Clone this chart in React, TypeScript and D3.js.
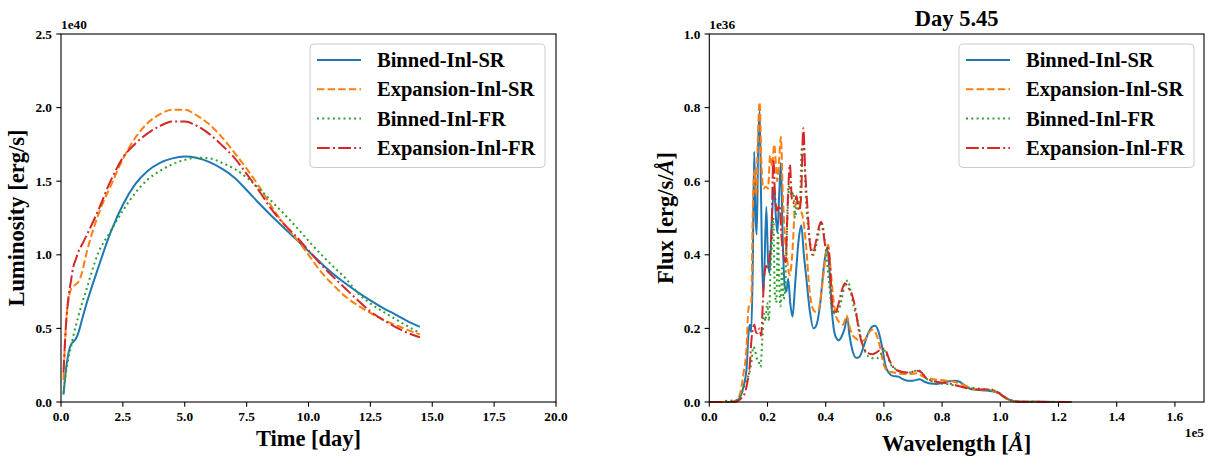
import React from "react";
import * as d3 from "d3";

const FONT = "'Liberation Serif', 'Times New Roman', Times, serif";

// ---------- shared series info ----------
const seriesNames = ["Binned-Inl-SR", "Expansion-Inl-SR", "Binned-Inl-FR", "Expansion-Inl-FR"];
const seriesColors = ["#1f77b4", "#ff7f0e", "#2ca02c", "#d62728"];
const seriesDashes = ["none", "7.4 3.2", "2 3.3", "12.8 3.2 2 3.2"];

// ---------- left panel: light curves (time in days, luminosity in 1e40 erg/s) ----------
const timeDays = [0.1, 0.2, 0.3, 0.4, 0.5, 0.6, 0.7, 0.85, 1.0, 1.5, 2.0, 2.5, 3.0, 3.5, 4.0, 4.5, 5.0, 5.5, 6.0, 6.5, 7.0, 7.5, 8.0, 8.5, 9.0, 9.5, 10.0, 10.5, 11.0, 11.5, 12.0, 12.5, 13.0, 13.5, 14.0, 14.5];
const lumBinnedSR = [0.05, 0.22, 0.33, 0.39, 0.41, 0.43, 0.47, 0.56, 0.65, 0.91, 1.15, 1.34, 1.48, 1.57, 1.625, 1.655, 1.667, 1.658, 1.63, 1.585, 1.525, 1.44, 1.35, 1.265, 1.185, 1.105, 1.025, 0.945, 0.87, 0.805, 0.745, 0.69, 0.64, 0.595, 0.55, 0.51];
const lumExpansionSR = [0.15, 0.52, 0.69, 0.765, 0.785, 0.8, 0.815, 0.88, 0.99, 1.27, 1.465, 1.65, 1.795, 1.895, 1.955, 1.985, 1.985, 1.945, 1.885, 1.8, 1.695, 1.585, 1.465, 1.33, 1.21, 1.11, 1.0, 0.885, 0.795, 0.715, 0.655, 0.605, 0.56, 0.525, 0.49, 0.46];
const lumBinnedFR = [0.06, 0.2, 0.3, 0.37, 0.45, 0.52, 0.58, 0.67, 0.75, 1.01, 1.16, 1.3, 1.42, 1.51, 1.57, 1.615, 1.645, 1.66, 1.655, 1.625, 1.585, 1.525, 1.45, 1.365, 1.28, 1.19, 1.095, 1.005, 0.92, 0.84, 0.74, 0.67, 0.615, 0.565, 0.515, 0.47];
const lumExpansionFR = [0.2, 0.52, 0.71, 0.82, 0.92, 0.97, 1.02, 1.07, 1.12, 1.3, 1.5, 1.66, 1.755, 1.825, 1.875, 1.905, 1.905, 1.875, 1.82, 1.745, 1.66, 1.55, 1.435, 1.31, 1.21, 1.125, 1.03, 0.935, 0.85, 0.77, 0.69, 0.615, 0.56, 0.51, 0.47, 0.44];
const lumTicksX = [0, 2.5, 5, 7.5, 10, 12.5, 15, 17.5, 20];
const lumTicksY = [0, 0.5, 1.0, 1.5, 2.0, 2.5];

// ---------- right panel: spectra at day 5.45 (wavelength in Å, flux in 1e36 erg/s/Å) ----------
const specBinnedSR: [number, number][] = [
  [0, 0], [5000, 0], [9000, 0.001], [10500, 0.012], [11700, 0.04], [12800, 0.09], [13500, 0.19], [13900, 0.21], [14400, 0.19], [14900, 0.35],
  [15450, 0.68], [15900, 0.5], [16300, 0.455], [16800, 0.7], [17300, 0.79], [17800, 0.55], [18400, 0.3], [18800, 0.33], [19600, 0.53], [20200, 0.38],
  [20700, 0.35], [21400, 0.48], [22300, 0.585], [22900, 0.5], [23400, 0.46], [24000, 0.56], [24600, 0.65], [25200, 0.45], [26000, 0.31], [26500, 0.3],
  [27100, 0.335], [27800, 0.27], [28600, 0.232], [29500, 0.32], [30700, 0.44], [31600, 0.48], [32500, 0.4], [33300, 0.34], [34500, 0.25], [35800, 0.2],
  [36600, 0.205], [38000, 0.26], [39400, 0.37], [40500, 0.42], [41200, 0.37], [42200, 0.24], [43300, 0.18], [44500, 0.168], [45600, 0.18], [46500, 0.2],
  [47400, 0.23], [48200, 0.18], [49200, 0.14], [50500, 0.12], [51500, 0.122], [53000, 0.15], [54500, 0.185], [56000, 0.205], [57000, 0.207], [58200, 0.19],
  [59500, 0.145], [60500, 0.1], [61800, 0.078], [63000, 0.071], [65000, 0.069], [66500, 0.062], [68000, 0.058], [70000, 0.058], [72300, 0.062], [74000, 0.055],
  [76000, 0.05], [78000, 0.049], [80000, 0.052], [82000, 0.056], [84500, 0.058], [86000, 0.055], [87500, 0.047], [89500, 0.036], [92000, 0.033], [95000, 0.031],
  [98000, 0.028], [99500, 0.024], [101500, 0.012], [103500, 0.005], [106000, 0.001], [110000, 0.0005], [124500, 0],
];
const specExpansionSR: [number, number][] = [
  [0, 0], [6000, 0], [9000, 0.002], [10500, 0.02], [11700, 0.075], [12800, 0.15], [13400, 0.25], [13900, 0.265], [14400, 0.27], [14900, 0.5],
  [15500, 0.63], [16100, 0.56], [16700, 0.72], [17300, 0.815], [17900, 0.65], [18600, 0.58], [19400, 0.585], [20200, 0.58], [20900, 0.67], [21600, 0.64],
  [22300, 0.7], [23000, 0.63], [23300, 0.6], [24000, 0.66], [24600, 0.72], [25200, 0.58], [25800, 0.47], [26600, 0.4], [27600, 0.345], [28500, 0.4],
  [29500, 0.53], [30500, 0.55], [31500, 0.52], [32200, 0.5], [33200, 0.43], [34500, 0.3], [35500, 0.255], [36500, 0.245], [37500, 0.25], [39000, 0.33],
  [40200, 0.41], [40900, 0.427], [41700, 0.36], [42500, 0.29], [43500, 0.235], [44800, 0.215], [46000, 0.21], [47200, 0.235], [48000, 0.21], [49000, 0.185],
  [50500, 0.172], [52000, 0.165], [53500, 0.17], [55000, 0.19], [56000, 0.197], [57000, 0.19], [58500, 0.155], [60000, 0.1], [61500, 0.083], [63500, 0.08],
  [65500, 0.077], [69000, 0.076], [71200, 0.078], [73500, 0.069], [77000, 0.062], [81500, 0.058], [85000, 0.053], [88500, 0.043], [92000, 0.034], [96500, 0.033],
  [99000, 0.025], [101000, 0.015], [103000, 0.005], [106000, 0.001], [124500, 0],
];
const specBinnedFR: [number, number][] = [
  [0, 0], [4000, 0], [5500, 0.003], [8000, 0.004], [9500, 0.006], [10500, 0.015], [11700, 0.035], [12800, 0.06], [13800, 0.08], [14500, 0.11],
  [15100, 0.15], [15700, 0.14], [16300, 0.12], [17000, 0.11], [17600, 0.095], [18200, 0.17], [18800, 0.24], [19300, 0.22], [19900, 0.27], [20500, 0.22],
  [21000, 0.35], [21500, 0.42], [22000, 0.5], [22500, 0.3], [23000, 0.27], [23600, 0.46], [24000, 0.33], [24500, 0.26], [25000, 0.37], [25500, 0.28],
  [26000, 0.3], [26700, 0.47], [27500, 0.59], [28200, 0.56], [28900, 0.57], [29500, 0.5], [30200, 0.54], [31000, 0.52], [31800, 0.69], [32400, 0.7],
  [33200, 0.55], [34000, 0.47], [35000, 0.42], [35800, 0.4], [36600, 0.42], [37600, 0.46], [38400, 0.49], [39200, 0.47], [40200, 0.4], [41200, 0.32],
  [42200, 0.25], [43500, 0.24], [44500, 0.25], [45500, 0.28], [46600, 0.32], [47600, 0.33], [48600, 0.3], [49600, 0.26], [51000, 0.22], [52500, 0.16],
  [54000, 0.13], [55500, 0.12], [57500, 0.118], [59000, 0.13], [60200, 0.14], [61000, 0.128], [62500, 0.1], [64500, 0.088], [67000, 0.08], [69500, 0.08],
  [71500, 0.087], [73000, 0.08], [74600, 0.064], [78000, 0.053], [82000, 0.048], [87000, 0.042], [92000, 0.037], [96500, 0.033], [99000, 0.028], [101000, 0.016],
  [103500, 0.005], [106000, 0.001], [124500, 0],
];
const specExpansionFR: [number, number][] = [
  [0, 0], [7000, 0], [9500, 0.002], [11000, 0.01], [12000, 0.02], [13000, 0.05], [13900, 0.1], [14500, 0.17], [15000, 0.2], [15500, 0.21],
  [16000, 0.19], [16600, 0.187], [17200, 0.2], [17800, 0.18], [18400, 0.27], [19000, 0.35], [19600, 0.37], [20200, 0.36], [20800, 0.4], [21400, 0.46],
  [22000, 0.66], [22600, 0.56], [23300, 0.52], [23800, 0.53], [24200, 0.535], [24700, 0.46], [25500, 0.4], [26200, 0.38], [27000, 0.55], [27700, 0.645],
  [28400, 0.55], [29200, 0.54], [30000, 0.56], [30800, 0.52], [31500, 0.55], [32300, 0.744], [33000, 0.62], [33800, 0.52], [34600, 0.43], [35500, 0.4],
  [36500, 0.43], [37500, 0.47], [38400, 0.49], [39200, 0.46], [40000, 0.42], [40600, 0.42], [41400, 0.38], [42200, 0.27], [43200, 0.24], [44200, 0.26],
  [45300, 0.296], [46600, 0.323], [47800, 0.31], [49100, 0.29], [50300, 0.25], [51500, 0.19], [52900, 0.15], [54500, 0.133], [56200, 0.13], [57500, 0.135],
  [59000, 0.143], [60000, 0.145], [60800, 0.137], [61900, 0.114], [64200, 0.087], [67700, 0.08], [70000, 0.082], [71700, 0.085], [72900, 0.08], [74600, 0.064],
  [78000, 0.055], [82600, 0.05], [87200, 0.04], [91900, 0.034], [96500, 0.034], [98800, 0.028], [101000, 0.016], [104000, 0.004], [107000, 0.001], [124500, 0],
];
const specTicksX = [0, 20000, 40000, 60000, 80000, 100000, 120000, 140000, 160000];
const specTicksY = [0, 0.2, 0.4, 0.6, 0.8, 1.0];

// ---------- layout ----------
const W = 1214;
const H = 459;
const TICK_FS = 13.3;
const LABEL_FS = 22.5;
const LEGEND_FS = 20.5;
const TICK_LEN = 4.7;

type Pt = [number, number];

function Legend({ x, y }: { x: number; y: number }) {
  const w = 235;
  const h = 123.5;
  return (
    <g>
      <rect x={x} y={y} width={w} height={h} rx={4} ry={4} fill="#ffffff" fillOpacity={0.8} stroke="#cccccc" strokeWidth={1} />
      {seriesNames.map((name, i) => {
        const cy = y + 16 + i * 29.3;
        return (
          <g key={name}>
            <line x1={x + 7} x2={x + 51} y1={cy} y2={cy} stroke={seriesColors[i]} strokeWidth={2} strokeDasharray={seriesDashes[i]} />
            <text x={x + 67} y={cy + 7} fontFamily={FONT} fontWeight="bold" fontSize={LEGEND_FS} fill="#000">
              {name}
            </text>
          </g>
        );
      })}
    </g>
  );
}

function Axes({
  x0, x1, y0, y1, xs, ys, xTicks, yTicks, fmtX, fmtY,
}: {
  x0: number; x1: number; y0: number; y1: number;
  xs: d3.ScaleLinear<number, number>; ys: d3.ScaleLinear<number, number>;
  xTicks: number[]; yTicks: number[];
  fmtX: (v: number) => string; fmtY: (v: number) => string;
}) {
  return (
    <g>
      <rect x={x0} y={y0} width={x1 - x0} height={y1 - y0} fill="none" stroke="#000" strokeWidth={1.1} />
      {xTicks.map((t) => (
        <g key={"x" + t}>
          <line x1={xs(t)} x2={xs(t)} y1={y1} y2={y1 + TICK_LEN} stroke="#000" strokeWidth={1.1} />
          <text x={xs(t)} y={420.5} textAnchor="middle" fontFamily={FONT} fontWeight="bold" fontSize={TICK_FS}>
            {fmtX(t)}
          </text>
        </g>
      ))}
      {yTicks.map((t) => (
        <g key={"y" + t}>
          <line x1={x0 - TICK_LEN} x2={x0} y1={ys(t)} y2={ys(t)} stroke="#000" strokeWidth={1.1} />
          <text x={x0 - 9} y={ys(t) + 4.6} textAnchor="end" fontFamily={FONT} fontWeight="bold" fontSize={TICK_FS}>
            {fmtY(t)}
          </text>
        </g>
      ))}
    </g>
  );
}

export default function App() {
  const fmt1 = d3.format(".1f");

  // left panel
  const L = { x0: 61, x1: 556, y0: 34, y1: 402 };
  const lx = d3.scaleLinear().domain([0, 20]).range([L.x0, L.x1]);
  const ly = d3.scaleLinear().domain([0, 2.5]).range([L.y1, L.y0]);
  const lumSeries = [lumBinnedSR, lumExpansionSR, lumBinnedFR, lumExpansionFR];
  const lumLine = d3
    .line<Pt>()
    .x((d) => lx(d[0]))
    .y((d) => ly(d[1]))
    .curve(d3.curveMonotoneX);

  // right panel
  const R = { x0: 709.3, x1: 1204, y0: 34, y1: 402 };
  const rx = d3.scaleLinear().domain([0, 170000]).range([R.x0, R.x1]);
  const ry = d3.scaleLinear().domain([0, 1.0]).range([R.y1, R.y0]);
  const specSeries = [specBinnedSR, specExpansionSR, specBinnedFR, specExpansionFR];
  const specLine = d3
    .line<Pt>()
    .x((d) => rx(d[0]))
    .y((d) => ry(d[1]))
    .curve(d3.curveMonotoneX);

  return (
    <svg width={W} height={H} viewBox={`0 0 ${W} ${H}`} style={{ position: "absolute", left: 0, top: 0, background: "#fff" }}>
      <rect x={0} y={0} width={W} height={H} fill="#fff" />

      {/* ----- left panel ----- */}
      {lumSeries.map((vals, i) => (
        <path
          key={"lum" + i}
          d={lumLine(timeDays.map((t, j) => [t, vals[j]] as Pt)) || ""}
          fill="none"
          stroke={seriesColors[i]}
          strokeWidth={2}
          strokeDasharray={seriesDashes[i]}
        />
      ))}
      <Axes {...L} xs={lx} ys={ly} xTicks={lumTicksX} yTicks={lumTicksY} fmtX={fmt1} fmtY={fmt1} />
      <text x={L.x0} y={29} fontFamily={FONT} fontWeight="bold" fontSize={TICK_FS}>1e40</text>
      <text x={(L.x0 + L.x1) / 2} y={445.5} textAnchor="middle" fontFamily={FONT} fontWeight="bold" fontSize={LABEL_FS}>
        Time [day]
      </text>
      <text transform={`translate(24,${(L.y0 + L.y1) / 2}) rotate(-90)`} textAnchor="middle" fontFamily={FONT} fontWeight="bold" fontSize={LABEL_FS}>
        Luminosity [erg/s]
      </text>
      <Legend x={310} y={44} />

      {/* ----- right panel ----- */}
      {specSeries.map((pts, i) => (
        <path
          key={"spec" + i}
          d={specLine(pts) || ""}
          fill="none"
          stroke={seriesColors[i]}
          strokeWidth={2}
          strokeDasharray={seriesDashes[i]}
        />
      ))}
      <Axes {...R} xs={rx} ys={ry} xTicks={specTicksX} yTicks={specTicksY} fmtX={(v) => fmt1(v / 1e5)} fmtY={fmt1} />
      <text x={R.x0} y={29} fontFamily={FONT} fontWeight="bold" fontSize={TICK_FS}>1e36</text>
      <text x={R.x1} y={437} textAnchor="end" fontFamily={FONT} fontWeight="bold" fontSize={TICK_FS}>1e5</text>
      <text x={(R.x0 + R.x1) / 2} y={26} textAnchor="middle" fontFamily={FONT} fontWeight="bold" fontSize={LABEL_FS}>
        Day 5.45
      </text>
      <text x={(R.x0 + R.x1) / 2} y={450.5} textAnchor="middle" fontFamily={FONT} fontWeight="bold" fontSize={LABEL_FS}>
        Wavelength [<tspan fontStyle="italic">Å</tspan>]
      </text>
      <text transform={`translate(672.5,${(R.y0 + R.y1) / 2}) rotate(-90)`} textAnchor="middle" fontFamily={FONT} fontWeight="bold" fontSize={LABEL_FS}>
        Flux [erg/s/<tspan fontStyle="italic">Å</tspan>]
      </text>
      <Legend x={959} y={44} />
    </svg>
  );
}
